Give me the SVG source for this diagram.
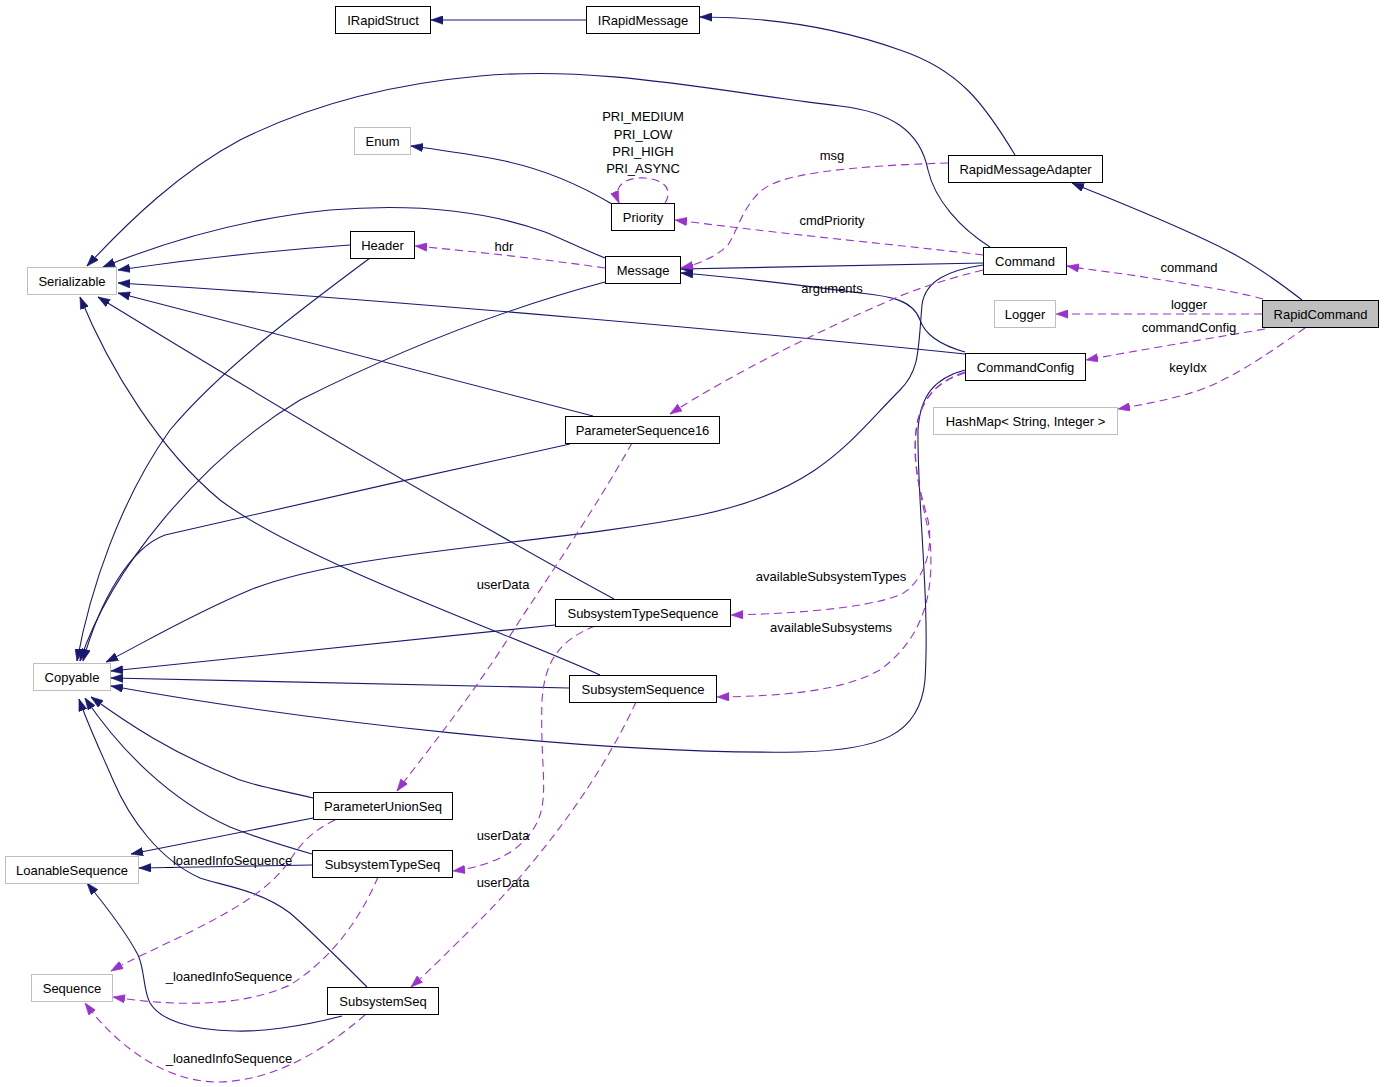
<svg xmlns="http://www.w3.org/2000/svg" width="1384" height="1087" viewBox="0 0 1384 1087">
<style>
text{font-family:"Liberation Sans",Helvetica,Arial,sans-serif;font-size:13px;fill:#000}
.n text{text-anchor:middle}
.b{fill:#fff;stroke:#000;stroke-width:1}
.g{fill:#fff;stroke:#bfbfbf;stroke-width:1}
.sel{fill:#bfbfbf;stroke:#000;stroke-width:1}
.s{fill:none;stroke:#191970;stroke-width:1.1;marker-end:url(#ah)}
.d{fill:none;stroke:#9a32cd;stroke-width:1.1;stroke-dasharray:8,5;marker-end:url(#ap)}
.lbl{text-anchor:middle}
</style>
<defs>
<marker id="ah" viewBox="0 0 10 7" refX="10" refY="3.5" markerWidth="12" markerHeight="9" markerUnits="userSpaceOnUse" orient="auto">
<path d="M0,0 L10,3.5 L0,7 z" fill="#191970" stroke="#191970" stroke-width="0.5" stroke-dasharray="none"/>
</marker>
<marker id="ap" viewBox="0 0 10 7" refX="10" refY="3.5" markerWidth="12" markerHeight="9" markerUnits="userSpaceOnUse" orient="auto">
<path d="M0,0 L10,3.5 L0,7 z" fill="#9a32cd" stroke="#9a32cd" stroke-width="0.5" stroke-dasharray="none"/>
</marker>
</defs>
<rect width="1384" height="1087" fill="#fff"/>
<g id="connectors">
<path class="s" d="M586,20 L431,20"/>
<path class="s" d="M1015,155 C985,105 960,70 900,50 C830,25 760,17 700,17"/>
<path class="s" d="M1302,300 C1280,283 1255,265 1230,252 C1180,226 1120,203 1072,183"/>
<path class="s" d="M612,204 C580,185 540,168 500,160 C470,154 440,150 411,146"/>
<path class="s" d="M990,247 C960,228 935,200 928,170 C920,130 890,112 840,106 C720,92 600,65 480,76 C380,85 300,110 240,140 C180,172 130,220 87,266"/>
<path class="s" d="M605,258 C580,248 560,238 545,232 C470,205 390,205 330,210 C250,218 170,240 103,267"/>
<path class="s" d="M350,245 C280,250 200,258 118,270"/>
<path class="s" d="M965,354 C800,337 400,300 118,283"/>
<path class="s" d="M593,416 L118,293"/>
<path class="s" d="M614,599 C450,510 250,390 98,297"/>
<path class="s" d="M600,675 C500,630 300,560 220,500 C160,450 110,370 80,297"/>
<path class="s" d="M983,263 L681,269"/>
<path class="s" d="M965,352 C940,345 925,335 920,320 C913,300 890,296 860,293 C800,285 720,276 681,273"/>
<path class="s" d="M370,258 C300,310 220,370 170,430 C120,500 90,590 77,661"/>
<path class="s" d="M605,282 C500,310 400,350 300,400 C200,460 110,570 80,661"/>
<path class="s" d="M570,444 C450,470 250,515 165,535 C130,548 100,600 83,661"/>
<path class="s" d="M983,265 C950,270 925,280 922,305 C918,350 920,370 900,390 C850,440 820,490 700,515 C550,545 350,550 250,590 C190,615 140,645 106,662"/>
<path class="s" d="M555,625 L111,671"/>
<path class="s" d="M569,688 L111,678"/>
<path class="s" d="M965,370 C935,378 920,395 918,430 C917,500 930,600 925,680 C920,735 880,750 800,752 C600,755 300,720 111,686"/>
<path class="s" d="M313,798 C280,790 250,785 235,778 C170,752 130,725 91,697"/>
<path class="s" d="M312,854 C280,845 250,835 230,827 C170,800 120,750 85,698"/>
<path class="s" d="M367,987 C340,960 310,930 290,913 C260,890 220,885 200,878 C160,860 130,820 113,780 C100,750 88,725 79,699"/>
<path class="s" d="M313,818 L131,854"/>
<path class="s" d="M312,865 L139,868"/>
<path class="s" d="M342,1016 C300,1027 260,1032 235,1031 C190,1030 160,1020 150,1003 C143,990 145,970 138,955 C125,930 105,905 87,883"/>
<path class="d" d="M1263,299 C1230,290 1180,283 1150,278 C1120,273 1090,270 1067,266"/>
<path class="d" d="M1262,314 L1056,314"/>
<path class="d" d="M1265,329 C1200,340 1140,350 1086,360"/>
<path class="d" d="M1305,328 C1280,345 1240,375 1200,390 C1170,400 1140,405 1118,409"/>
<path class="d" d="M983,255 C900,245 800,236 675,220"/>
<path class="d" d="M948,163 C880,165 800,170 770,185 C745,198 738,230 728,245 C715,258 695,265 681,268"/>
<path class="d" d="M605,268 C550,260 480,252 415,246"/>
<path class="d" d="M665,203 C672,192 668,180 645,178 C625,177 612,186 619,203"/>
<path class="d" d="M983,270 C950,278 920,288 900,296 C820,330 730,375 670,414"/>
<path class="d" d="M632,443 C600,500 560,560 520,620 C470,700 420,760 397,791"/>
<path class="d" d="M965,372 C940,380 925,395 918,420 C910,460 920,490 928,520 C935,555 920,585 900,595 C860,610 780,614 731,615"/>
<path class="d" d="M965,373 C935,382 920,400 916,430 C912,470 925,510 930,540 C935,600 920,640 880,670 C840,692 780,696 717,697"/>
<path class="d" d="M636,702 C600,780 540,860 480,920 C450,950 430,970 411,987"/>
<path class="d" d="M595,626 C560,640 545,660 542,700 C540,760 548,790 540,815 C530,845 500,865 453,871"/>
<path class="d" d="M335,820 C310,832 300,845 290,860 C270,890 230,912 190,932 C160,947 130,960 111,971"/>
<path class="d" d="M378,877 C360,920 330,960 290,985 C240,1008 170,1006 113,997"/>
<path class="d" d="M365,1015 C330,1045 280,1080 220,1082 C170,1083 120,1050 85,1003"/>
<text class="lbl" x="1189" y="272">command</text>
<text class="lbl" x="1189" y="309">logger</text>
<text class="lbl" x="1189" y="332">commandConfig</text>
<text class="lbl" x="1188" y="372">keyIdx</text>
<text class="lbl" x="832" y="225">cmdPriority</text>
<text class="lbl" x="832" y="160">msg</text>
<text class="lbl" x="504" y="251">hdr</text>
<text class="lbl" x="643" y="121">PRI_MEDIUM</text>
<text class="lbl" x="643" y="139">PRI_LOW</text>
<text class="lbl" x="643" y="156">PRI_HIGH</text>
<text class="lbl" x="643" y="173">PRI_ASYNC</text>
<text class="lbl" x="832" y="293">arguments</text>
<text class="lbl" x="503" y="589">userData</text>
<text class="lbl" x="831" y="581">availableSubsystemTypes</text>
<text class="lbl" x="831" y="632">availableSubsystems</text>
<text class="lbl" x="503" y="840">userData</text>
<text class="lbl" x="503" y="887">userData</text>
<text class="lbl" x="229" y="865">_loanedInfoSequence</text>
<text class="lbl" x="229" y="981">_loanedInfoSequence</text>
<text class="lbl" x="229" y="1063">_loanedInfoSequence</text>
</g>
<g id="IRapidStruct" class="n"><rect class="b" x="335.5" y="6.5" width="95" height="27"/><text x="383" y="24.5">IRapidStruct</text></g>
<g id="IRapidMessage" class="n"><rect class="b" x="586.5" y="6.5" width="113" height="27"/><text x="643" y="24.5">IRapidMessage</text></g>
<g id="Enum" class="n"><rect class="g" x="354.5" y="127.5" width="56" height="27"/><text x="382.5" y="145.5">Enum</text></g>
<g id="RapidMessageAdapter" class="n"><rect class="b" x="948.5" y="155.5" width="154" height="27"/><text x="1025.5" y="173.5">RapidMessageAdapter</text></g>
<g id="Priority" class="n"><rect class="b" x="611.5" y="203.5" width="63" height="27"/><text x="643" y="221.5">Priority</text></g>
<g id="Header" class="n"><rect class="b" x="350.5" y="231.5" width="64" height="27"/><text x="382.5" y="249.5">Header</text></g>
<g id="Message" class="n"><rect class="b" x="605.5" y="256.5" width="75" height="27"/><text x="643" y="274.5">Message</text></g>
<g id="Command" class="n"><rect class="b" x="983.5" y="247.5" width="83" height="27"/><text x="1025" y="265.5">Command</text></g>
<g id="Serializable" class="n"><rect class="g" x="27.5" y="267.5" width="89" height="27"/><text x="72" y="285.5">Serializable</text></g>
<g id="Logger" class="n"><rect class="g" x="994.5" y="300.5" width="61" height="27"/><text x="1025" y="318.5">Logger</text></g>
<g id="RapidCommand" class="n"><rect class="sel" x="1262.5" y="300.5" width="116" height="27"/><text x="1320.5" y="318.5">RapidCommand</text></g>
<g id="CommandConfig" class="n"><rect class="b" x="965.5" y="353.5" width="120" height="27"/><text x="1025.5" y="371.5">CommandConfig</text></g>
<g id="HashMap" class="n"><rect class="g" x="933.5" y="407.5" width="184" height="27"/><text x="1025.5" y="425.5">HashMap&lt; String, Integer &gt;</text></g>
<g id="ParameterSequence16" class="n"><rect class="b" x="565.5" y="416.5" width="154" height="27"/><text x="642.5" y="434.5">ParameterSequence16</text></g>
<g id="SubsystemTypeSequence" class="n"><rect class="b" x="555.5" y="599.5" width="175" height="27"/><text x="643" y="617.5">SubsystemTypeSequence</text></g>
<g id="Copyable" class="n"><rect class="g" x="33.5" y="663.5" width="77" height="27"/><text x="72" y="681.5">Copyable</text></g>
<g id="SubsystemSequence" class="n"><rect class="b" x="569.5" y="675.5" width="147" height="27"/><text x="643" y="693.5">SubsystemSequence</text></g>
<g id="ParameterUnionSeq" class="n"><rect class="b" x="313.5" y="792.5" width="139" height="27"/><text x="383" y="810.5">ParameterUnionSeq</text></g>
<g id="LoanableSequence" class="n"><rect class="g" x="5.5" y="856.5" width="133" height="27"/><text x="72" y="874.5">LoanableSequence</text></g>
<g id="SubsystemTypeSeq" class="n"><rect class="b" x="312.5" y="850.5" width="140" height="27"/><text x="382.5" y="868.5">SubsystemTypeSeq</text></g>
<g id="Sequence" class="n"><rect class="g" x="31.5" y="974.5" width="81" height="27"/><text x="72" y="992.5">Sequence</text></g>
<g id="SubsystemSeq" class="n"><rect class="b" x="327.5" y="987.5" width="111" height="27"/><text x="383" y="1005.5">SubsystemSeq</text></g>
</svg>
